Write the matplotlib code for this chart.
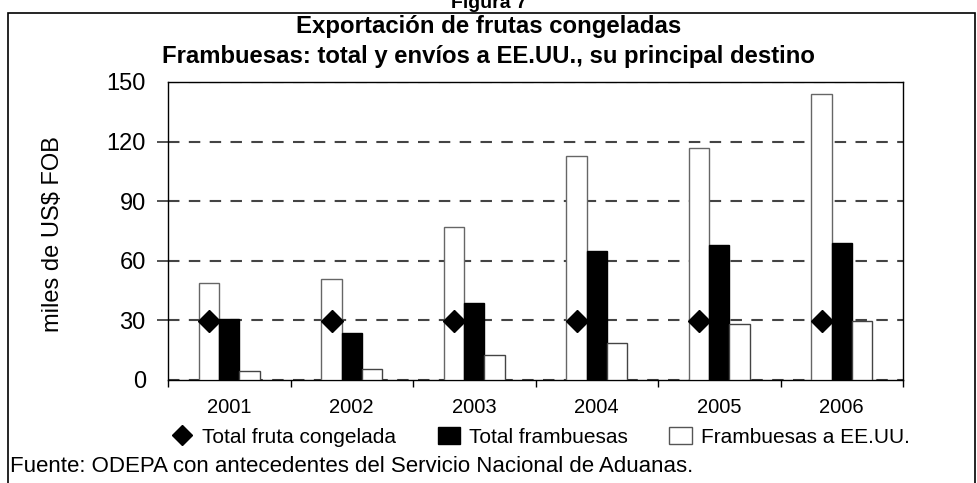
import matplotlib
matplotlib.use("Agg")
import matplotlib.pyplot as plt
from matplotlib.lines import Line2D
from matplotlib.patches import Patch, Rectangle
import numpy as np

plt.rcParams['font.family'] = ['Liberation Sans', 'DejaVu Sans']

years = ["2001", "2002", "2003", "2004", "2005", "2006"]
fruta_congelada_bar = [48.7, 50.8, 77, 112.7, 116.8, 143.8]
total_frambuesas = [30.5, 23.8, 39, 65, 68, 69]
frambuesas_eeuu = [4.5, 5.4, 12.5, 18.8, 28, 29.8]
total_fruta_congelada = [29.7, 29.7, 29.7, 29.7, 29.7, 29.7]
yticks = [0, 30, 60, 90, 120, 150]

W, H = 977, 483
fig = plt.figure(figsize=(W / 100, H / 100), dpi=100)

# outer frame
fig.add_artist(Rectangle((8 / W, -0.1), (975 - 8) / W, (1 - 13 / H) + 0.1,
                         transform=fig.transFigure, fill=False, ec='black', lw=1.2))

fig.text(0.5, 1 - 8 / H, "Figura 7", ha='center', va='baseline',
         fontsize=14, fontweight='bold')
fig.text(0.5, 1 - 26 / H, "Exportación de frutas congeladas", ha='center', va='center',
         fontsize=17.3, fontweight='bold')
fig.text(0.5, 1 - 56 / H, "Frambuesas: total y envíos a EE.UU., su principal destino",
         ha='center', va='center', fontsize=17.2, fontweight='bold')

left, right, top, bottom = 168, 903, 82, 380
ax = fig.add_axes([left / W, 1 - bottom / H, (right - left) / W, (bottom - top) / H])

x = np.arange(len(years))
bw = 0.165
ax.bar(x - bw, fruta_congelada_bar, bw, color='white', edgecolor='#666666', lw=1, zorder=3)
ax.bar(x, total_frambuesas, bw, color='black', edgecolor='black', lw=1, zorder=3)
ax.bar(x + bw, frambuesas_eeuu, bw, color='white', edgecolor='#444444', lw=1, zorder=3)
ax.plot(x - bw, total_fruta_congelada, linestyle='none', marker='D', markersize=10.7,
        color='black', zorder=4)

ax.set_xlim(-0.5, len(years) - 0.5)
ax.set_ylim(0, 150)
ax.set_yticks(yticks)
ax.set_yticklabels([str(v) for v in yticks], fontsize=17)
ax.set_xticks(np.arange(len(years) + 1) - 0.5, minor=False)
ax.set_xticklabels([])
ax.set_xticks(x, minor=True)
ax.set_xticklabels(years, minor=True, fontsize=14.5)
ax.tick_params(axis='x', which='minor', length=0, pad=13)
ax.tick_params(axis='x', which='major', length=5, direction='out', width=1)
ax.tick_params(axis='y', length=8, direction='out', width=1.3, colors='#444444',
               labelcolor='black', pad=8)
yt = ax.yaxis.get_major_ticks()
yt[0].tick1line.set_visible(False)
yt[-1].tick1line.set_visible(False)
ax.yaxis.grid(True, linestyle=(0, (5.5, 4.5)), color='#444444', lw=1.5, zorder=1)
ax.set_axisbelow(True)
for s in ax.spines.values():
    s.set_color('black')
    s.set_linewidth(1)
ax.set_ylabel("miles de US$ FOB", fontsize=17)
ax.yaxis.set_label_coords((64 - left) / (right - left), 0.49)

handles = [
    Line2D([], [], linestyle='none', marker='D', markersize=10, color='black'),
    Patch(facecolor='black', edgecolor='black'),
    Patch(facecolor='white', edgecolor='#555555'),
]
labels = ["Total fruta congelada", "Total frambuesas", "Frambuesas a EE.UU."]
fig.legend(handles, labels, loc='center', bbox_to_anchor=(540 / W, 1 - 437 / H), ncol=3,
           frameon=False, fontsize=15, handlelength=1.1, handleheight=0.9,
           handletextpad=0.4, columnspacing=2.0, borderpad=0)

fig.text(10 / W, 1 - 467 / H, "Fuente: ODEPA con antecedentes del Servicio Nacional de Aduanas.",
         ha='left', va='center', fontsize=16)

fig.savefig("out.png", dpi=100)
